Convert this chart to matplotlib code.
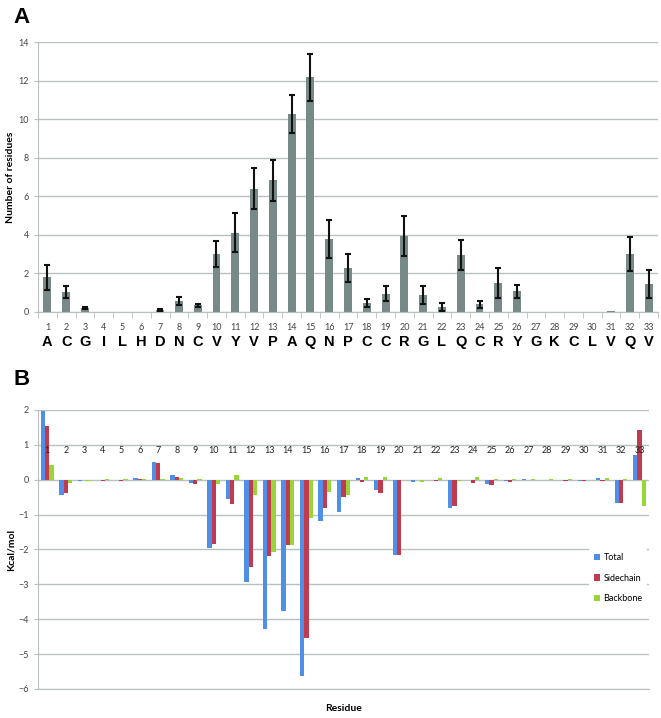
import matplotlib.pyplot as plt
import numpy as np

# Panel A data
residues = ['A', 'C', 'G', 'I', 'L', 'H', 'D', 'N', 'C', 'V', 'Y', 'V', 'P', 'A', 'Q',
            'N', 'P', 'C', 'C', 'R', 'G', 'L', 'Q', 'C', 'R', 'Y', 'G', 'K', 'C', 'L',
            'V', 'Q', 'V']
counts = [1.8, 1.05, 0.2, 0, 0, 0, 0.08, 0.57, 0.35, 3.0, 4.12, 6.4, 6.82, 10.27, 12.17,
          3.78, 2.28, 0.48, 0.95, 3.92, 0.9, 0.26, 2.94, 0.4, 1.5, 1.07, 0, 0, 0, 0,
          0.03, 3.02, 1.43]
errors = [0.65, 0.3, 0.07, 0, 0, 0, 0.05, 0.2, 0.08, 0.68, 1.0, 1.05, 1.06, 1.0, 1.23,
          1.0, 0.71, 0.2, 0.38, 1.04, 0.47, 0.2, 0.78, 0.17, 0.78, 0.35, 0, 0, 0, 0,
          0, 0.87, 0.73]

# Panel B data
total = [1.97, -0.43, -0.03, 0, 0, 0.05, 0.5, 0.13, -0.09, -1.97, -0.55, -2.93, -4.28,
         -3.75, -5.63, -1.18, -0.92, 0.04, -0.3, -2.15, -0.07, 0, -0.8, -0.02, -0.12,
         -0.03, 0.03, 0, -0.02, -0.04, 0.04, -0.67, 0.7]
sidechain = [1.53, -0.37, 0, -0.03, -0.03, 0.02, 0.47, 0.07, -0.12, -1.85, -0.69, -2.51,
             -2.2, -1.87, -4.53, -0.82, -0.5, -0.06, -0.39, -2.17, 0, -0.05, -0.76, -0.09,
             -0.15, -0.07, 0, -0.02, -0.03, -0.03, -0.03, -0.67, 1.44]
backbone = [0.43, -0.08, -0.03, 0.02, 0.02, 0.03, 0.03, 0.05, 0.02, -0.12, 0.15, -0.43,
            -2.08, -1.87, -1.11, -0.35, -0.45, 0.09, 0.08, -0.01, -0.07, 0.05, -0.03,
            0.08, 0.02, 0.03, 0.03, 0.03, 0.03, -0.02, 0.04, 0.01, -0.75]

n = len(residues)
x = np.arange(n)
grid_c = '#b9c0c0'
tick_c = '#444444'

fig = plt.figure(figsize=(6.61, 7.18), dpi=100)

# ---- panel A ----
axA = fig.add_axes([0.0575, 0.5655, 0.938, 0.376])
axA.bar(x, counts, width=0.42, color='#778a88', zorder=2)
cnt = np.array(counts)
err = np.array(errors)
has_err = err > 0
axA.errorbar(x[has_err], cnt[has_err], yerr=err[has_err], fmt='none', ecolor='#111111',
             elinewidth=1.5, capsize=2.5, capthick=1.5, zorder=3)
axA.set_xlim(-0.5, n - 0.5)
axA.set_ylim(0, 14)
axA.set_yticks(range(0, 15, 2))
axA.yaxis.grid(True, color=grid_c, lw=1)
axA.set_axisbelow(True)
for s in ['top', 'right']:
    axA.spines[s].set_visible(False)
for s in ['left', 'bottom']:
    axA.spines[s].set_color(grid_c)
axA.set_xticks(x)
axA.set_xticklabels([str(i + 1) for i in x], fontsize=6.5, color=tick_c, family='Lato')
axA.set_xticks(np.arange(-0.5, n, 1), minor=True)
axA.tick_params(axis='x', which='major', length=0, pad=8)
axA.tick_params(axis='x', which='minor', length=4, color=grid_c, direction='out')
axA.tick_params(axis='y', length=3, color=grid_c, labelsize=6.5, labelcolor=tick_c)
for lab in axA.get_yticklabels():
    lab.set_family('Lato')
for i, r in enumerate(residues):
    axA.text(i, -1.2, r, ha='center', va='top', fontsize=10.5, fontweight='bold',
             family='Liberation Sans')
axA.set_ylabel('Number of residues', fontsize=7.5, fontweight='bold', family='Lato')
axA.yaxis.set_label_coords(-0.037, 0.5)
fig.text(0.02, 0.975, 'A', fontsize=16, fontweight='bold', family='Liberation Sans',
         va='center')

# ---- panel B ----
axB = fig.add_axes([0.0575, 0.0404, 0.924, 0.3886])
w = 0.23
axB.bar(x - w, total, width=w, color='#4f8fe8', label='Total', zorder=2)
axB.bar(x, sidechain, width=w, color='#c23a4e', label='Sidechain', zorder=2)
axB.bar(x + w, backbone, width=w, color='#97d53a', label='Backbone', zorder=2)
axB.set_xlim(-0.5, n - 0.5)
axB.set_ylim(-6, 2)
axB.set_yticks(range(-6, 3))
axB.yaxis.grid(True, color=grid_c, lw=1)
axB.set_axisbelow(True)
for s in ['top', 'right']:
    axB.spines[s].set_visible(False)
for s in ['left', 'bottom']:
    axB.spines[s].set_color(grid_c)
axB.set_xticks([])
axB.tick_params(axis='y', length=3, color=grid_c, labelsize=6.5, labelcolor=tick_c)
for lab in axB.get_yticklabels():
    lab.set_family('Lato')
for i in x:
    axB.text(i, 0.83, str(i + 1), ha='center', va='center', fontsize=6.5, color='#222222',
             family='Lato', zorder=4)
axB.set_ylabel('Kcal/mol', fontsize=7.5, fontweight='bold', family='Lato')
axB.yaxis.set_label_coords(-0.037, 0.5)
axB.set_xlabel('Residue', fontsize=7.5, fontweight='bold', family='Lato', labelpad=11)
leg = axB.legend(loc='upper left', bbox_to_anchor=(0.895, 0.52), frameon=True,
                 handlelength=0.7, handleheight=0.7, handletextpad=0.4,
                 labelspacing=1.3, borderpad=0.5, prop={'family': 'Lato', 'size': 6.5})
leg.get_frame().set_edgecolor('none')
leg.get_frame().set_facecolor('white')
leg.get_frame().set_alpha(1)
fig.text(0.02, 0.472, 'B', fontsize=16, fontweight='bold', family='Liberation Sans',
         va='center')

fig.savefig('out.png', dpi=100)
